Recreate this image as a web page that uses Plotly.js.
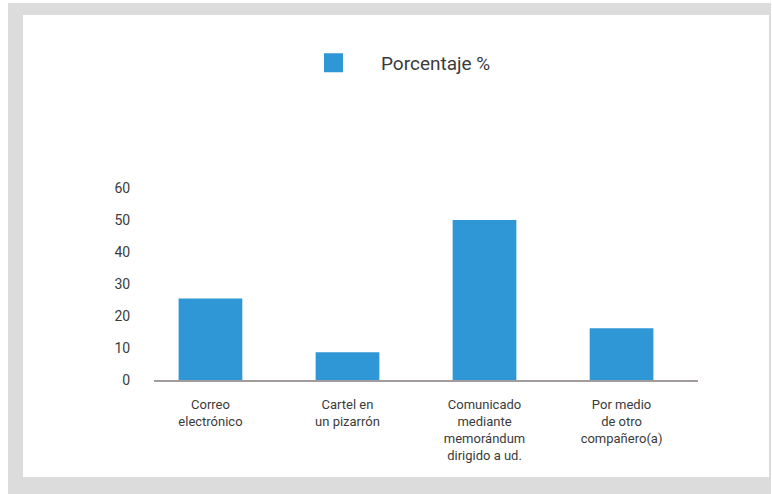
<!DOCTYPE html>
<html>
<head>
<meta charset="utf-8">
<script src="https://cdn.plot.ly/plotly-3.0.1.min.js"></script>
<style>
  html, body { margin: 0; padding: 0; background: #ffffff; }
  #wrap { position: relative; width: 772px; height: 494px; overflow: hidden; background: #ffffff; }
  #frame { position: absolute; left: 8px; top: 3px; width: 763px; height: 491px; background: #dcdcdd; }
  #panel { position: absolute; left: 23px; top: 15px; width: 746px; height: 462px; background: #ffffff; }
  #chart { position: absolute; left: 0; top: 0; width: 772px; height: 494px; }
</style>
</head>
<body>
<div id="wrap">
  <div id="frame"></div>
  <div id="panel"></div>
  <div id="chart"></div>
</div>
<script>
const categories = [
  "Correo<br>electrónico",
  "Cartel en<br>un pizarrón",
  "Comunicado<br>mediante<br>memorándum<br>dirigido a ud.",
  "Por medio<br>de otro<br>compañero(a)"
];
const porcentaje = [25.5, 8.7, 50, 16.2];
const seriesName = "Porcentaje %";
const yTicks = [0, 10, 20, 30, 40, 50, 60];

const barColor = "#3097d6";
const fontFam = "Roboto, 'Open Sans', sans-serif";

const traces = [
  {
    type: "bar",
    x: categories,
    y: porcentaje,
    name: seriesName,
    showlegend: false,
    width: 0.465,
    marker: { color: barColor, line: { width: 0 } },
    hoverinfo: "x+y"
  },
  {
    type: "scatter",
    mode: "markers",
    x: [null],
    y: [null],
    name: seriesName,
    showlegend: true,
    marker: { symbol: "square", size: 16, color: barColor, line: { color: barColor, width: 3 } }
  }
];

const layout = {
  width: 772,
  height: 494,
  paper_bgcolor: "rgba(0,0,0,0)",
  plot_bgcolor: "rgba(0,0,0,0)",
  margin: { l: 154, r: 74, t: 188, b: 114 },
  font: { family: fontFam, color: "#3b3b3b", size: 13 },
  showlegend: true,
  legend: {
    xref: "container", yref: "container",
    x: 286 / 772, xanchor: "left",
    y: 1 - 44 / 494, yanchor: "top",
    orientation: "h",
    itemwidth: 85,
    font: { family: fontFam, size: 19, color: "#3b3b3b" },
    bgcolor: "rgba(0,0,0,0)",
    borderwidth: 0
  },
  xaxis: {
    type: "category",
    range: [-0.412, 3.558],
    showline: true,
    linecolor: "#a39c9c",
    linewidth: 1.5,
    showgrid: false,
    zeroline: false,
    ticks: "outside",
    ticklen: 12,
    tickcolor: "rgba(0,0,0,0)",
    tickfont: { family: fontFam, size: 13, color: "#3b3b3b" },
    fixedrange: true
  },
  yaxis: {
    range: [0, 60],
    tickvals: yTicks,
    ticktext: yTicks.map(String),
    showline: false,
    showgrid: false,
    zeroline: false,
    ticks: "outside",
    ticklen: 20,
    tickcolor: "rgba(0,0,0,0)",
    tickfont: { family: fontFam, size: 14, color: "#3b3b3b" },
    fixedrange: true
  },
  bargap: 0.5
};

Plotly.newPlot("chart", traces, layout, { displayModeBar: false, staticPlot: true });
</script>
</body>
</html>
